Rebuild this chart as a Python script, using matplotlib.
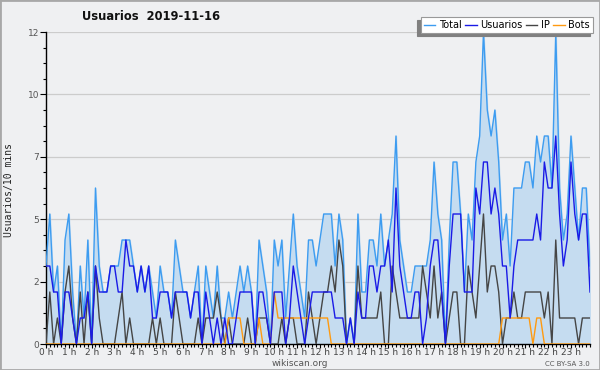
import numpy as np
import matplotlib
matplotlib.use("Agg")
import matplotlib.pyplot as plt
from matplotlib.patches import Rectangle

# one value every 10 minutes, 144 points for the day
usuarios = [3, 3, 2, 2, 0, 2, 2, 1, 0, 1, 1, 2, 0, 3, 2, 2, 2, 3, 3, 2,
            2, 4, 3, 3, 2, 3, 2, 3, 1, 1, 2, 2, 2, 1, 2, 2, 2, 2, 1, 2,
            2, 0, 2, 1, 0, 1, 0, 1, 0, 0, 1, 2, 2, 2, 2, 0, 2, 2, 1, 0,
            2, 2, 2, 0, 1, 3, 2, 1, 0, 1, 2, 2, 2, 2, 2, 2, 1, 1, 1, 0,
            1, 0, 2, 1, 1, 3, 3, 2, 3, 3, 4, 2, 6, 3, 2, 1, 1, 2, 2, 0,
            1, 3, 4, 4, 2, 0, 3, 5, 5, 5, 2, 2, 2, 6, 5, 7, 7, 5, 6, 5,
            3, 3, 1, 3, 4, 4, 4, 4, 4, 5, 4, 7, 6, 6, 8, 5, 3, 4, 7, 5,
            4, 5, 5, 2]
ip = [0, 2, 0, 1, 0, 2, 3, 1, 0, 2, 0, 2, 0, 3, 1, 0, 0, 0, 0, 1,
      2, 0, 1, 0, 0, 0, 0, 0, 1, 0, 1, 0, 0, 0, 2, 1, 0, 0, 0, 0,
      1, 0, 1, 1, 1, 2, 1, 0, 1, 0, 0, 0, 0, 1, 0, 0, 1, 1, 1, 0,
      0, 0, 1, 0, 1, 1, 0, 0, 0, 2, 1, 0, 1, 2, 2, 3, 2, 4, 3, 0,
      0, 0, 3, 1, 1, 1, 1, 1, 2, 0, 0, 3, 2, 1, 1, 1, 1, 1, 1, 3,
      2, 1, 3, 1, 2, 0, 1, 2, 2, 0, 0, 3, 2, 1, 3, 5, 2, 3, 3, 2,
      0, 1, 1, 2, 1, 1, 2, 2, 2, 2, 2, 1, 2, 0, 4, 1, 1, 1, 1, 1,
      0, 1, 1, 1]
bots = [0] * 48 + [1, 1, 1, 1] + [0] * 4 + [1] + [0] * 3 + [2] + [1] * 14 \
    + [0] * 45 + [1] * 8 + [0, 1, 1] + [0] * 13
total = [3, 5, 2, 3, 0, 4, 5, 2, 0, 3, 1, 4, 0, 6, 3, 2, 2, 3, 3, 3,
         4, 4, 4, 3, 2, 3, 2, 3, 2, 1, 3, 2, 2, 1, 4, 3, 2, 2, 1, 2,
         3, 0, 3, 2, 1, 3, 1, 1, 2, 1, 2, 3, 2, 3, 2, 0, 4, 3, 2, 0,
         4, 3, 4, 1, 3, 5, 3, 2, 1, 4, 4, 3, 4, 5, 5, 5, 3, 5, 4, 0,
         1, 0, 5, 2, 2, 4, 4, 3, 5, 3, 4, 5, 8, 4, 3, 2, 2, 3, 3, 3,
         3, 4, 7, 5, 4, 0, 4, 7, 7, 5, 2, 5, 4, 7, 8, 12, 9, 8, 9, 7,
         4, 5, 3, 6, 6, 6, 7, 7, 6, 8, 7, 8, 8, 6, 12, 6, 4, 5, 8, 6,
         4, 6, 6, 3]
hours = list(range(24))

bg = '#eff0f2'
x = np.arange(len(total))

fig = plt.figure(figsize=(6, 3.7), dpi=100, facecolor=bg)
fig.patches.append(Rectangle((0, 0), 1, 1, transform=fig.transFigure,
                             fill=False, edgecolor='#a8a8a8', linewidth=2))
ax = fig.add_axes([46 / 600, 26 / 370, 544 / 600, 312 / 370], facecolor=bg)

ax.fill_between(x, total, color='#c5dcf0', zorder=1)
ax.plot(x, total, color='#3d9cf0', lw=1.0, label='Total', zorder=3)
ax.plot(x, usuarios, color='#1a1ae6', lw=1.0, label='Usuarios', zorder=4)
ax.plot(x, ip, color='#454545', lw=1.0, label='IP', zorder=3)
ax.plot(x, bots, color='#ff9a10', lw=1.0, label='Bots', zorder=3)

ax.set_xlim(0, len(total) - 1)
ax.set_ylim(0, 12)
yt = [0, 2.4, 4.8, 7.2, 9.6, 12]
ax.set_yticks(yt)
ax.set_yticklabels([str(int(round(v))) for v in yt])
ax.set_yticks(np.arange(0, 12.01, 0.6), minor=True)
ax.set_xticks([h * 6 for h in hours])
ax.set_xticklabels([f'{h} h' for h in hours])
ax.set_xticks(x, minor=True)
ax.grid(axis='y', color='#cccccc', lw=0.9, zorder=0)
ax.set_axisbelow(True)

for s in ['top', 'right']:
    ax.spines[s].set_visible(False)
for s in ['left', 'bottom']:
    ax.spines[s].set_color('black')
    ax.spines[s].set_linewidth(1.0)
ax.tick_params(axis='y', which='major', labelsize=6.5, colors='black',
               labelcolor='#555555', length=4, width=0.8, pad=1)
ax.tick_params(axis='y', which='minor', length=2.5, width=0.8, colors='black')
ax.tick_params(axis='x', which='major', labelsize=6.5, colors='black',
               labelcolor='#444444', length=3, width=0.8, pad=0)
ax.tick_params(axis='x', which='minor', length=2.5, width=0.8, colors='black')

tfam = ['DejaVu Sans Condensed', 'Liberation Sans Narrow', 'DejaVu Sans']
fig.text(151 / 600, 1 - 16 / 370, 'Usuarios  2019-11-16', ha='center', va='center',
         fontsize=8.3, fontweight='bold', family=tfam, color='#111111')
fig.text(9 / 600, 1 - 190 / 370, 'Usuarios/10 mins', rotation=90, ha='center',
         va='center', fontsize=7, family='DejaVu Sans Mono', color='#222222')
fig.text(300 / 600, 1 - 364 / 370, 'wikiscan.org', ha='center', va='center',
         fontsize=6.5, color='#555555')
fig.text(590 / 600, 1 - 364 / 370, 'CC BY-SA 3.0', ha='right', va='center',
         fontsize=5, color='#555555')

leg = fig.legend(loc='upper right', bbox_to_anchor=(593 / 600, 1 - 17 / 370), ncol=4,
                 fontsize=7, frameon=True, fancybox=False, handlelength=1.2,
                 handletextpad=0.4, columnspacing=0.3, borderpad=0.3,
                 borderaxespad=0,
                 shadow={'ox': -2.5, 'oy': -2.5, 'color': '#808080', 'alpha': 1})
leg.get_frame().set_edgecolor('#999999')
leg.get_frame().set_linewidth(0.8)

fig.savefig('out.png', dpi=100, facecolor=bg)
